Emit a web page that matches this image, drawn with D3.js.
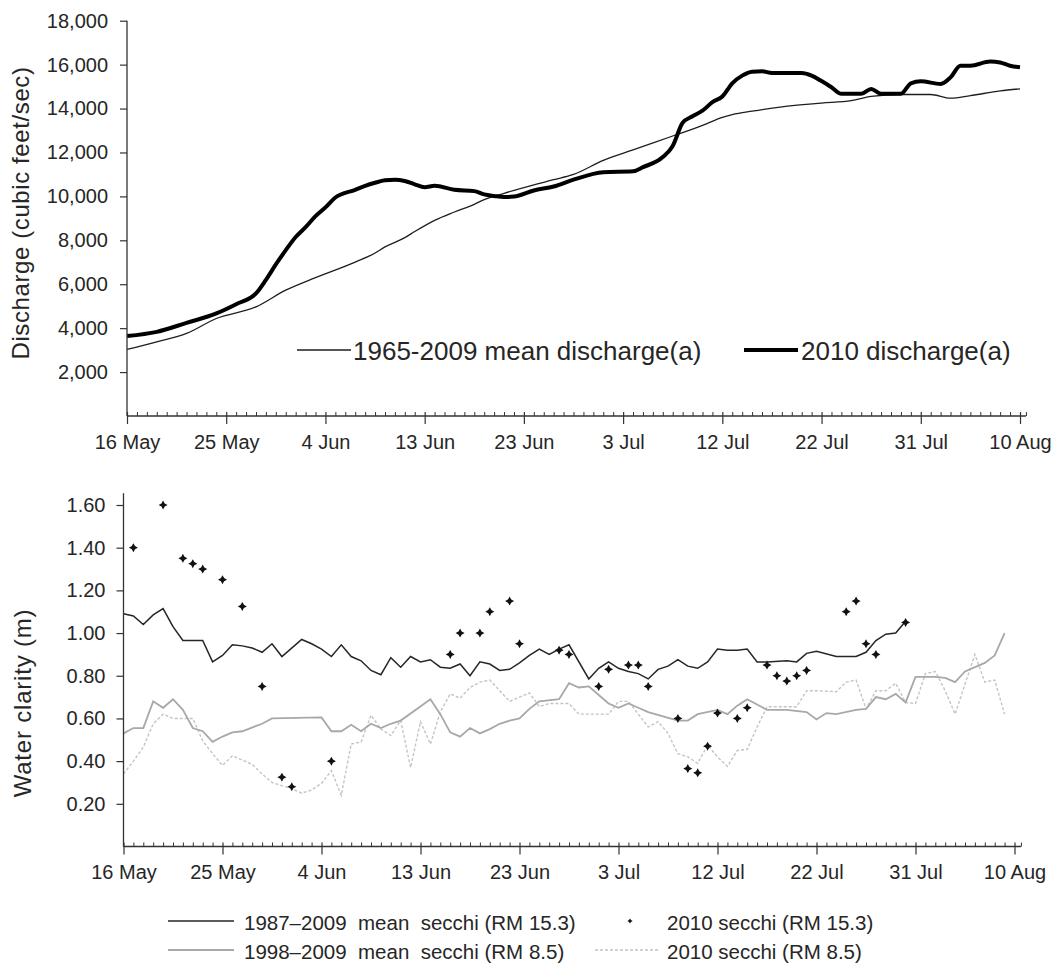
<!DOCTYPE html>
<html>
<head>
<meta charset="utf-8">
<script src="https://cdn.jsdelivr.net/npm/d3@7"></script>
<style>
  body { margin: 0; background: #fff; }
  svg text { font-family: "Liberation Sans", Arial, sans-serif; fill: #262626; }
</style>
</head>
<body>
<svg id="chart" width="1057" height="964"></svg>
<script>
// ---- Shared category axis: one category per observation, a label every tenth ----
const dateLabels = ["16 May", "25 May", "4 Jun", "13 Jun", "23 Jun", "3 Jul", "12 Jul", "22 Jul", "31 Jul", "10 Aug"];
const labelStep = 10;
const lastCategory = 90;

// ---- Discharge (cubic feet/sec) ----
const meanDischargeDay = [0,3,6,9,13,16,19,23,25,26,28,29,31,33,35,36,38,40,43,45,48,51,55,58,60,61,63,66,70,73,75,78,81,83,85,88,90];
const meanDischarge = [3030,3380,3760,4440,4970,5730,6300,7010,7420,7700,8120,8400,8910,9290,9640,9850,10140,10400,10760,11000,11640,12120,12750,13230,13600,13720,13880,14080,14250,14360,14550,14640,14640,14470,14590,14800,14900];

const discharge2010Day = [0,3,6,9,11,13,14,15,16,17,18,19,20,21,23,24,25,26,27,28,29,30,31,33,35,36,37,38,39,41,43,45,48,51,52,54,55,56,57,58,59,60,61,62,63,64,65,68,69,70,71,72,74,75,76,78,79,80,82,83,84,85,87,88,89,90];
const discharge2010 = [3640,3830,4240,4670,5090,5580,6200,6900,7550,8150,8600,9100,9500,9950,10300,10480,10620,10730,10760,10700,10550,10420,10480,10300,10240,10090,10020,9970,9990,10270,10450,10760,11100,11140,11330,11790,12300,13350,13650,13900,14290,14550,15150,15500,15680,15700,15620,15620,15500,15250,14970,14670,14670,14890,14670,14670,15150,15240,15120,15420,15950,15950,16140,16100,15950,15880];

const dischargeTicks = [2000,4000,6000,8000,10000,12000,14000,16000,18000];

// ---- Water clarity, secchi depth (m) ----
const meanSecchiRM153Day = [0,1,2,3,4,5,6,7,8,9,10,11,12,13,14,15,16,18,19,20,21,22,23,24,25,26,27,28,29,30,31,32,33,34,35,36,37,38,39,40,41,42,43,44,45,47,48,49,50,51,52,53,54,55,56,57,58,59,60,61,62,63,64,65,67,68,69,70,72,74,75,76,77,78,79];
const meanSecchiRM153 = [1.09,1.08,1.04,1.085,1.115,1.03,0.965,0.965,0.965,0.865,0.895,0.945,0.94,0.93,0.91,0.95,0.89,0.97,0.95,0.925,0.89,0.945,0.89,0.87,0.825,0.805,0.885,0.84,0.89,0.865,0.875,0.84,0.835,0.855,0.80,0.865,0.855,0.825,0.83,0.86,0.895,0.925,0.90,0.925,0.945,0.785,0.835,0.865,0.835,0.82,0.81,0.785,0.83,0.845,0.875,0.845,0.835,0.865,0.925,0.92,0.92,0.925,0.865,0.865,0.87,0.865,0.905,0.915,0.89,0.89,0.91,0.965,0.995,1.0,1.055];

const meanSecchiRM85Day = [0,1,2,3,4,5,6,7,8,9,10,11,12,14,15,20,21,22,23,24,25,26,27,28,31,32,33,34,35,36,37,38,39,40,41,42,44,45,46,47,48,49,50,51,52,53,56,57,58,60,61,62,63,64,65,67,69,70,71,72,74,75,76,77,78,79,80,81,82,83,84,85,87,88,89];
const meanSecchiRM85 = [0.53,0.555,0.555,0.68,0.65,0.69,0.64,0.555,0.54,0.49,0.515,0.535,0.54,0.575,0.60,0.605,0.54,0.54,0.57,0.54,0.575,0.555,0.575,0.59,0.69,0.62,0.535,0.515,0.555,0.53,0.55,0.575,0.59,0.60,0.645,0.68,0.69,0.765,0.745,0.75,0.71,0.67,0.65,0.67,0.65,0.63,0.59,0.59,0.62,0.64,0.62,0.66,0.69,0.665,0.64,0.64,0.63,0.595,0.625,0.62,0.64,0.645,0.70,0.69,0.715,0.675,0.795,0.795,0.795,0.79,0.77,0.82,0.86,0.895,1.0];

const secchi2010RM85Day = [0,1,2,3,4,5,6,7,8,9,10,11,12,13,14,15,17,18,19,20,21,22,23,24,25,26,27,28,29,30,31,32,33,34,35,36,37,38,39,40,41,42,43,45,46,49,50,51,53,54,55,56,57,58,59,60,61,62,63,64,65,68,69,70,72,73,74,75,76,77,78,79,80,81,82,83,84,85,86,87,88,89];
const secchi2010RM85 = [0.34,0.40,0.465,0.575,0.62,0.60,0.60,0.60,0.495,0.435,0.38,0.425,0.405,0.385,0.34,0.30,0.27,0.25,0.265,0.295,0.355,0.24,0.48,0.49,0.615,0.55,0.52,0.59,0.37,0.585,0.48,0.63,0.715,0.695,0.745,0.77,0.78,0.73,0.68,0.70,0.72,0.655,0.67,0.67,0.62,0.62,0.68,0.68,0.56,0.585,0.53,0.435,0.42,0.39,0.475,0.42,0.375,0.45,0.455,0.56,0.655,0.655,0.73,0.73,0.725,0.77,0.78,0.645,0.73,0.73,0.765,0.675,0.67,0.81,0.82,0.73,0.62,0.76,0.90,0.77,0.78,0.62];

const secchi2010RM153Day = [1,4,6,7,8,10,12,14,16,17,21,33,34,36,37,39,40,44,45,48,49,51,52,53,56,57,58,59,60,62,63,65,66,67,68,69,73,74,75,76,79];
const secchi2010RM153 = [1.40,1.60,1.35,1.325,1.30,1.25,1.125,0.75,0.325,0.28,0.40,0.90,1.00,1.00,1.10,1.15,0.95,0.92,0.90,0.75,0.83,0.85,0.85,0.75,0.60,0.365,0.345,0.47,0.625,0.60,0.65,0.85,0.80,0.775,0.80,0.825,1.10,1.15,0.95,0.90,1.05];

const clarityTicks = [0.2,0.4,0.6,0.8,1.0,1.2,1.4,1.6];

// ---- Legends ----
const dischargeLegend = ["1965-2009 mean discharge(a)", "2010 discharge(a)"];
const clarityLegend = [
  "1987\u20132009  mean  secchi (RM 15.3)",
  "2010 secchi (RM 15.3)",
  "1998\u20132009  mean  secchi (RM 8.5)",
  "2010 secchi (RM 8.5)"
];

const pairs = (days, vals) => days.map((d, i) => [d, vals[i]]);

const svg = d3.select("#chart");
const AXIS = "#333";

// Category x axis with labelled major ticks and one minor tick per category
function drawCategoryAxis(x, yPos, endValue) {
  const g = svg.append("g").attr("transform", `translate(0,${yPos})`);
  g.append("line")
    .attr("x1", x(0)).attr("x2", x(endValue))
    .attr("stroke", AXIS).attr("stroke-width", 1.3);

  const minor = g.append("g").call(
    d3.axisBottom(x)
      .tickValues(d3.range(0, lastCategory + 1).filter(d => d % labelStep !== 0).concat([endValue]))
      .tickSize(-4).tickFormat(""));
  minor.select(".domain").remove();
  minor.selectAll(".tick line").attr("stroke", AXIS).attr("stroke-width", 1);

  const major = g.append("g").call(
    d3.axisBottom(x)
      .tickValues(d3.range(0, lastCategory + 1, labelStep))
      .tickSizeInner(8).tickSizeOuter(0).tickPadding(10.5)
      .tickFormat((d, i) => dateLabels[i]));
  major.select(".domain").remove();
  major.selectAll(".tick line").attr("y1", -4).attr("stroke", AXIS).attr("stroke-width", 1.2);
  major.selectAll(".tick text")
    .attr("font-size", 20)
    .attr("font-family", '"Liberation Sans", Arial, sans-serif')
    .style("fill", "#262626");
}

function drawValueAxis(y, xPos, ticks, fmt, yMin, yMax, pad) {
  const g = svg.append("g").attr("transform", `translate(${xPos},0)`);
  g.append("line")
    .attr("y1", y(yMin)).attr("y2", y(yMax))
    .attr("stroke", AXIS).attr("stroke-width", 1.3);
  const ax = g.append("g").call(
    d3.axisLeft(y).tickValues(ticks).tickSizeInner(7).tickSizeOuter(0)
      .tickPadding(pad).tickFormat(fmt));
  ax.select(".domain").remove();
  ax.selectAll(".tick line").attr("stroke", AXIS).attr("stroke-width", 1.2);
  ax.selectAll(".tick text")
    .attr("font-size", 20)
    .attr("font-family", '"Liberation Sans", Arial, sans-serif')
    .style("fill", "#262626");
}

function axisTitle(text, xPos, yCenter, spacing) {
  svg.append("text")
    .attr("transform", `translate(${xPos},${yCenter}) rotate(-90)`)
    .attr("text-anchor", "middle")
    .attr("font-size", 24)
    .attr("letter-spacing", spacing)
    .text(text);
}

// ================= Discharge panel =================
const xQ = d3.scaleLinear().domain([0, lastCategory]).range([127, 1020]);
const yQ = d3.scaleLinear().domain([0, 18000]).range([416, 20.7]);

const lineQ = d3.line().x(d => xQ(d[0])).y(d => yQ(d[1])).curve(d3.curveMonotoneX);

svg.append("path")
  .datum(pairs(meanDischargeDay, meanDischarge))
  .attr("fill", "none").attr("stroke", "#1e1e1e").attr("stroke-width", 1.3)
  .attr("d", lineQ);

svg.append("path")
  .datum(pairs(discharge2010Day, discharge2010))
  .attr("fill", "none").attr("stroke", "#000").attr("stroke-width", 4)
  .attr("stroke-linejoin", "round")
  .attr("d", lineQ);

drawValueAxis(yQ, 127, dischargeTicks, d3.format(","), 0, 18000, 12);
drawCategoryAxis(xQ, 416, 90.6);
axisTitle("Discharge (cubic feet/sec)", 29, 213, 0.6);

// discharge legend
const legQ = svg.append("g");
legQ.append("line").attr("x1", 297).attr("x2", 351).attr("y1", 350).attr("y2", 350)
  .attr("stroke", "#1e1e1e").attr("stroke-width", 1.3);
legQ.append("text").attr("x", 353).attr("y", 359.5).attr("font-size", 26).text(dischargeLegend[0]);
legQ.append("line").attr("x1", 744).attr("x2", 798).attr("y1", 350).attr("y2", 350)
  .attr("stroke", "#000").attr("stroke-width", 4);
legQ.append("text").attr("x", 801).attr("y", 359.5).attr("font-size", 26).text(dischargeLegend[1]);

// ================= Water clarity panel =================
const xC = d3.scaleLinear().domain([0, lastCategory]).range([123.5, 1014.5]);
const yC = d3.scaleLinear().domain([0, 1.6]).range([846.5, 505]);

const lineC = d3.line().x(d => xC(d[0])).y(d => yC(d[1]));

svg.append("path")
  .datum(pairs(secchi2010RM85Day, secchi2010RM85))
  .attr("fill", "none").attr("stroke", "#c4c4c4").attr("stroke-width", 1.4)
  .attr("stroke-dasharray", "3,2")
  .attr("d", lineC);

svg.append("path")
  .datum(pairs(meanSecchiRM85Day, meanSecchiRM85))
  .attr("fill", "none").attr("stroke", "#a8a8a8").attr("stroke-width", 1.8)
  .attr("d", lineC);

svg.append("path")
  .datum(pairs(meanSecchiRM153Day, meanSecchiRM153))
  .attr("fill", "none").attr("stroke", "#262626").attr("stroke-width", 1.5)
  .attr("d", lineC);

// four-pointed star marker
function starPath(r, w) {
  const p = d3.path();
  p.moveTo(0, -r); p.lineTo(w, -w); p.lineTo(r, 0); p.lineTo(w, w);
  p.lineTo(0, r); p.lineTo(-w, w); p.lineTo(-r, 0); p.lineTo(-w, -w); p.closePath();
  return p.toString();
}

svg.append("g").selectAll("path")
  .data(pairs(secchi2010RM153Day, secchi2010RM153))
  .join("path")
  .attr("transform", d => `translate(${xC(d[0])},${yC(d[1])})`)
  .attr("d", starPath(4.5, 1.6))
  .attr("fill", "#111");

drawValueAxis(yC, 123.5, clarityTicks, d3.format(".2f"), 0, 1.655, 11);
drawCategoryAxis(xC, 846.5, 90.65);
axisTitle("Water clarity (m)", 31, 703, 0.8);

// clarity legend
const legC = svg.append("g");
legC.append("line").attr("x1", 168).attr("x2", 234).attr("y1", 921).attr("y2", 921)
  .attr("stroke", "#262626").attr("stroke-width", 1.5);
legC.append("text").attr("x", 244).attr("y", 930).attr("font-size", 20.5)
  .attr("xml:space", "preserve").style("white-space", "pre").text(clarityLegend[0]);
legC.append("path").attr("transform", "translate(630,921)").attr("d", starPath(2.6, 1)).attr("fill", "#111");
legC.append("text").attr("x", 667).attr("y", 930).attr("font-size", 20.5).text(clarityLegend[1]);

legC.append("line").attr("x1", 168).attr("x2", 234).attr("y1", 950).attr("y2", 950)
  .attr("stroke", "#a8a8a8").attr("stroke-width", 1.8);
legC.append("text").attr("x", 244).attr("y", 959).attr("font-size", 20.5)
  .attr("xml:space", "preserve").style("white-space", "pre").text(clarityLegend[2]);
legC.append("line").attr("x1", 595).attr("x2", 660).attr("y1", 950).attr("y2", 950)
  .attr("stroke", "#c4c4c4").attr("stroke-width", 1.4).attr("stroke-dasharray", "3,2");
legC.append("text").attr("x", 667).attr("y", 959).attr("font-size", 20.5).text(clarityLegend[3]);
</script>
</body>
</html>
